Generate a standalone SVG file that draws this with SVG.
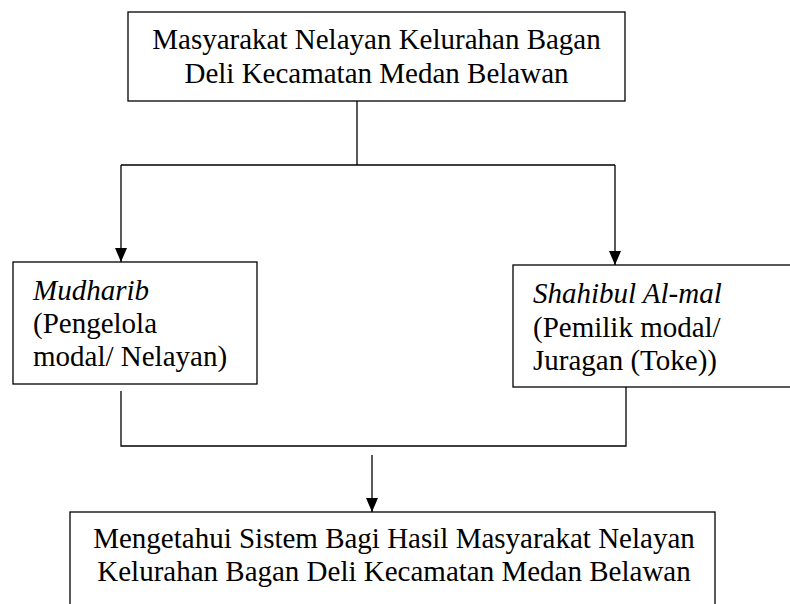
<svg xmlns="http://www.w3.org/2000/svg" width="790" height="604" viewBox="0 0 790 604">
<defs>
<style>
.box{fill:#fff;stroke:#000;stroke-width:1.3}
.t{font-family:"Liberation Serif","Times New Roman",serif;font-size:29px;fill:#000}
.i{font-style:italic}
.c{fill:none;stroke:#000;stroke-width:1.3}
</style>
<marker id="ah" viewBox="0 0 14 12" refX="14" refY="6" markerWidth="14" markerHeight="12" markerUnits="userSpaceOnUse" orient="auto"><path d="M0,0 L14,6 L0,12 z" fill="#000"/></marker>
</defs>
<rect width="790" height="604" fill="#fff"/>
<g id="connectors">
<path class="c" d="M357,101 V165 M121,165 H615"/>
<path class="c" d="M121,165 V262" marker-end="url(#ah)"/>
<path class="c" d="M615,165 V265" marker-end="url(#ah)"/>
<path class="c" d="M121,391 V446 H626 V387"/>
<path class="c" d="M372,455 V512" marker-end="url(#ah)"/>
</g>
<g id="node-top">
<rect class="box" x="128" y="12" width="497" height="89"/>
<text class="t" x="376.5" y="49" text-anchor="middle">Masyarakat Nelayan Kelurahan Bagan</text>
<text class="t" x="376.5" y="83" text-anchor="middle">Deli Kecamatan Medan Belawan</text>
</g>
<g id="node-mudharib">
<rect class="box" x="13" y="262" width="244" height="122"/>
<text class="t i" x="33" y="300">Mudharib</text>
<text class="t" x="33" y="333">(Pengelola</text>
<text class="t" x="33" y="366">modal/ Nelayan)</text>
</g>
<g id="node-shahibul">
<rect class="box" x="513" y="265" width="290" height="122"/>
<text class="t i" x="533" y="303">Shahibul Al-mal</text>
<text class="t" x="533" y="337">(Pemilik modal/</text>
<text class="t" x="533" y="370">Juragan (Toke))</text>
</g>
<g id="node-bottom">
<rect class="box" x="70" y="512" width="645" height="110"/>
<text class="t" x="394" y="548" text-anchor="middle">Mengetahui Sistem Bagi Hasil Masyarakat Nelayan</text>
<text class="t" x="394" y="581" text-anchor="middle">Kelurahan Bagan Deli Kecamatan Medan Belawan</text>
</g>
</svg>
